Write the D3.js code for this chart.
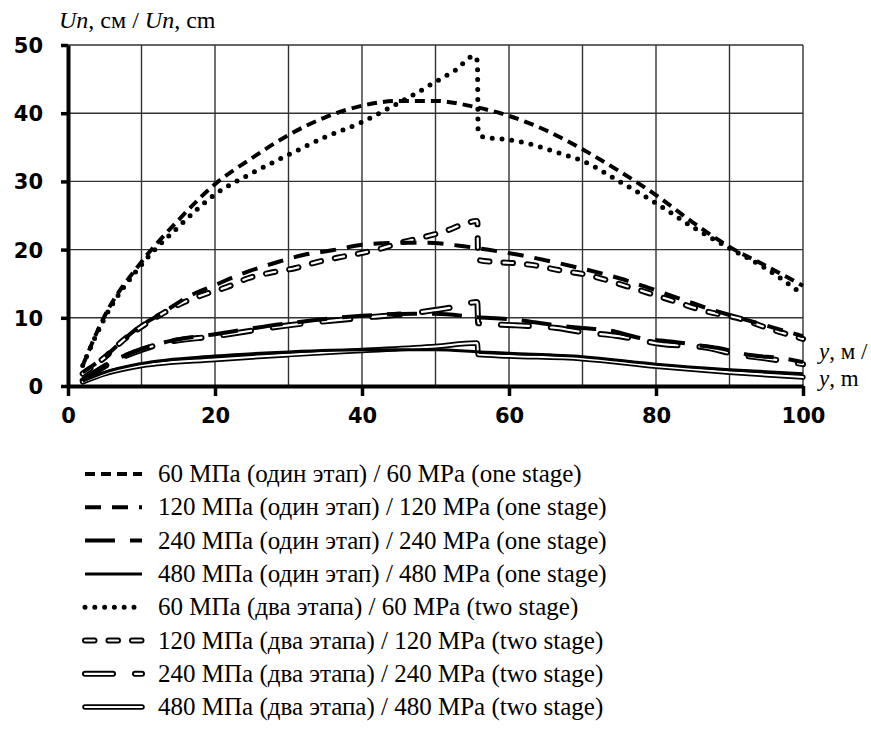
<!DOCTYPE html>
<html>
<head>
<meta charset="utf-8">
<script src="https://cdnjs.cloudflare.com/ajax/libs/d3/7.8.5/d3.min.js"></script>
<style>
    body { margin: 0; background: #fff; }
    .tick-label { font-family: "DejaVu Sans", sans-serif; font-weight: bold; font-size: 21px; fill: #000; }
    .serif { font-family: "Liberation Serif", "Times New Roman", serif; fill: #000; }
</style>
</head>
<body>
<svg id="chart" width="871" height="749"></svg>
<script>
// displacement Un (cm) along y (m)
const xTicks = [0, 20, 40, 60, 80, 100];
const yTicks = [0, 10, 20, 30, 40, 50];
const xGrid = [10, 20, 30, 40, 50, 60, 70, 80, 90, 100];
const yGrid = [10, 20, 30, 40, 50];

const u60One = [[2, 3.0], [5, 10.3], [10, 18.2], [15, 24.3], [20, 29.6], [25, 33.4], [30, 36.8], [35, 39.4],
    [40, 41.1], [45, 41.8], [50, 41.8], [55, 41.0], [60, 39.6], [65, 37.5], [70, 34.7], [75, 31.5],
    [80, 28.0], [85, 24.0], [90, 20.4], [95, 17.6], [100, 14.7]];
const u120One = [[2, 2.0], [5, 4.3], [8, 7.2], [10, 8.9], [13, 10.8], [16, 12.9], [20, 14.8], [24, 16.6],
    [28, 18.0], [32, 19.2], [36, 19.9], [40, 20.7], [45, 21.0], [49, 21.0], [53, 20.6], [57, 20.0],
    [61.5, 19.2], [66, 18.2], [70, 17.2], [75, 15.8], [79, 14.4], [83, 12.9], [87, 11.4], [91, 10.1],
    [95.5, 8.7], [100, 7.3]];
const u240One = [[2, 0.9], [6, 3.6], [10, 5.4], [13.5, 6.5], [20, 7.6], [30, 9.2], [40, 10.3], [47, 10.6],
    [50, 10.6], [55.6, 10.1], [60, 9.8], [66.5, 8.9], [70, 8.5], [73.3, 8.2], [78, 7.0], [82.3, 6.5],
    [85.6, 6.0], [88.3, 5.6], [93, 4.5], [97, 4.1], [100, 3.5]];
const u480One = [[2, 0.7], [5, 2.0], [10, 3.3], [20, 4.4], [30, 5.0], [40, 5.3], [50, 5.3], [56, 5.0],
    [60, 4.8], [70, 4.3], [80, 3.2], [90, 2.4], [100, 1.8]];

const u60Two = [[2, 3.0], [5, 10.0], [10, 17.8], [15, 23.3], [20, 28.1], [25, 31.2], [30, 33.9], [35, 36.5],
    [40, 38.7], [43.4, 40.6], [47.5, 43.0], [50, 44.6], [52.7, 46.3], [55.3, 48.4], [55.7, 47.6],
    [55.8, 37.3], [56.5, 36.5], [59.2, 36.2], [62.4, 35.6], [66.7, 34.2], [70, 33.0], [75, 30.0],
    [80, 26.8], [85, 23.3], [90, 20.2], [95, 17.2], [100, 13.4]];
const u120Two = [[2, 1.8], [5, 4.2], [7.5, 6.7], [10.7, 9.2], [13, 10.7], [15.6, 12.2], [19, 13.6],
    [21.6, 14.5], [24.5, 15.8], [27.5, 16.6], [31, 17.3], [34, 18.2], [36.6, 18.8], [39.5, 19.4],
    [42.4, 20.1], [45.2, 21.0], [48.3, 21.8], [51.3, 22.7], [54.3, 23.9], [55.6, 24.2], [55.7, 24.0],
    [55.8, 18.5], [57.8, 18.2], [61, 18.0], [64, 17.6], [66.7, 17.0], [70.6, 16.3], [75.5, 14.8],
    [82, 12.6], [87, 10.9], [91, 10.0], [96, 8.2], [100, 6.9]];
const u240Two = [[2, 0.8], [6, 3.5], [10, 5.3], [13.5, 6.4], [20, 7.3], [30, 8.9], [40, 10.0], [47, 10.7],
    [52.6, 11.6], [55.6, 12.3], [55.7, 12.2], [55.8, 9.2], [61, 8.9], [66.5, 8.5], [70, 7.9], [75, 7.3],
    [80.5, 6.2], [87, 5.6], [91, 4.6], [94.6, 4.1], [100, 3.2]];
const u480Two = [[2, 0.6], [5, 1.8], [10, 3.0], [20, 3.9], [30, 4.6], [40, 5.2], [50, 5.8], [55.6, 6.3],
    [55.7, 6.2], [55.8, 4.6], [60, 4.4], [70, 4.0], [80, 2.9], [90, 2.0], [100, 1.3]];

const labels = [
    '60 МПа (один этап) / 60 MPa (one stage)',
    '120 МПа (один этап) / 120 MPa (one stage)',
    '240 МПа (один этап) / 240 MPa (one stage)',
    '480 МПа (один этап) / 480 MPa (one stage)',
    '60 МПа (два этапа) / 60 MPa (two stage)',
    '120 МПа (два этапа) / 120 MPa (two stage)',
    '240 МПа (два этапа) / 240 MPa (two stage)',
    '480 МПа (два этапа) / 480 MPa (two stage)'
];

// line styles: plain strokes for one stage, dots and hollow strokes for two stages
const styles = [
    {type: 'plain', width: 4, dash: '10,6'},
    {type: 'plain', width: 4, dash: '16,11'},
    {type: 'plain', width: 4, dash: '30,15'},
    {type: 'plain', width: 3, dash: null},
    {type: 'dots', width: 5, dash: '0,9.8'},
    {type: 'hollow', width: 6, inner: 2.2, dash: '9.5,14'},
    {type: 'hollow', width: 6, inner: 2.2, dash: '28,22'},
    {type: 'hollow', width: 5.5, inner: 2, dash: null}
];
const seriesValues = [u60One, u120One, u240One, u480One, u60Two, u120Two, u240Two, u480Two];
const series = seriesValues.map((values, i) => ({values, label: labels[i], style: styles[i]}));

const plot = {left: 68, right: 803, top: 45, bottom: 386};

const x = d3.scaleLinear().domain([0, 100]).range([plot.left, plot.right]);
const y = d3.scaleLinear().domain([0, 50]).range([plot.bottom, plot.top]);

const svg = d3.select('#chart');

// the grid
const grid = svg.append('g').attr('stroke', '#333').attr('stroke-width', 1.4);
grid.selectAll('line.v')
    .data(xGrid)
    .enter()
    .append('line')
    .attr('x1', d => x(d))
    .attr('x2', d => x(d))
    .attr('y1', y(0))
    .attr('y2', y(50));
grid.selectAll('line.h')
    .data(yGrid)
    .enter()
    .append('line')
    .attr('x1', x(0))
    .attr('x2', x(100))
    .attr('y1', d => y(d))
    .attr('y2', d => y(d));

const line = d3.line()
    .x(d => x(d[0]))
    .y(d => y(d[1]))
    .curve(d3.curveMonotoneX);

function drawStroke(g, pathData, style) {
    if (style.type === 'plain') {
        g.append('path')
            .attr('d', pathData)
            .attr('fill', 'none')
            .attr('stroke', '#000')
            .attr('stroke-width', style.width)
            .attr('stroke-dasharray', style.dash);
    } else if (style.type === 'dots') {
        g.append('path')
            .attr('d', pathData)
            .attr('fill', 'none')
            .attr('stroke', '#000')
            .attr('stroke-width', style.width)
            .attr('stroke-linecap', 'round')
            .attr('stroke-dasharray', style.dash);
    } else {
        g.append('path')
            .attr('d', pathData)
            .attr('fill', 'none')
            .attr('stroke', '#000')
            .attr('stroke-width', style.width)
            .attr('stroke-linecap', 'round')
            .attr('stroke-linejoin', 'round')
            .attr('stroke-dasharray', style.dash);
        g.append('path')
            .attr('d', pathData)
            .attr('fill', 'none')
            .attr('stroke', '#fff')
            .attr('stroke-width', style.inner)
            .attr('stroke-linecap', 'round')
            .attr('stroke-linejoin', 'round')
            .attr('stroke-dasharray', style.dash);
    }
}

// two-stage curves underneath, one-stage curves on top
const curves = svg.append('g');
series.slice(4).concat(series.slice(0, 4)).forEach(s => {
    drawStroke(curves.append('g'), line(s.values), s.style);
});

// axes
const xAxis = d3.axisBottom(x).tickValues(xTicks).tickSize(10).tickSizeOuter(0).tickPadding(12);
const yAxis = d3.axisLeft(y).tickValues(yTicks).tickSize(7).tickSizeOuter(0).tickPadding(18);

const gx = svg.append('g').attr('transform', `translate(0,${plot.bottom})`).call(xAxis);
const gy = svg.append('g').attr('transform', `translate(${plot.left},0)`).call(yAxis);
[gx, gy].forEach(g => {
    g.select('.domain').attr('stroke', '#000').attr('stroke-width', 4);
    g.selectAll('.tick line').attr('stroke', '#000').attr('stroke-width', 3.5);
    g.selectAll('.tick text').attr('class', 'tick-label').attr('font-family', null).attr('font-size', null);
});
gy.selectAll('.tick text').attr('dy', '0.36em');

// axis titles
const yTitle = svg.append('text').attr('class', 'serif').attr('x', 59).attr('y', 28).attr('font-size', 24);
yTitle.append('tspan').attr('font-style', 'italic').text('Un');
yTitle.append('tspan').text(', см / ');
yTitle.append('tspan').attr('font-style', 'italic').text('Un');
yTitle.append('tspan').text(', cm');

[['y', ', м /', 359], ['y', ', m', 386]].forEach(([v, rest, yy]) => {
    const t = svg.append('text').attr('class', 'serif').attr('x', 819).attr('y', yy).attr('font-size', 23);
    t.append('tspan').attr('font-style', 'italic').text(v);
    t.append('tspan').text(rest);
});

// legend
const legend = svg.append('g');
series.forEach((s, i) => {
    const cy = 474 + i * 33.3;
    const row = legend.append('g');
    drawStroke(row, `M85,${cy}L142,${cy}`, s.style);
    row.append('text')
        .attr('class', 'serif')
        .attr('x', 158)
        .attr('y', cy + 8)
        .attr('font-size', 25)
        .text(s.label);
});
</script>
</body>
</html>
